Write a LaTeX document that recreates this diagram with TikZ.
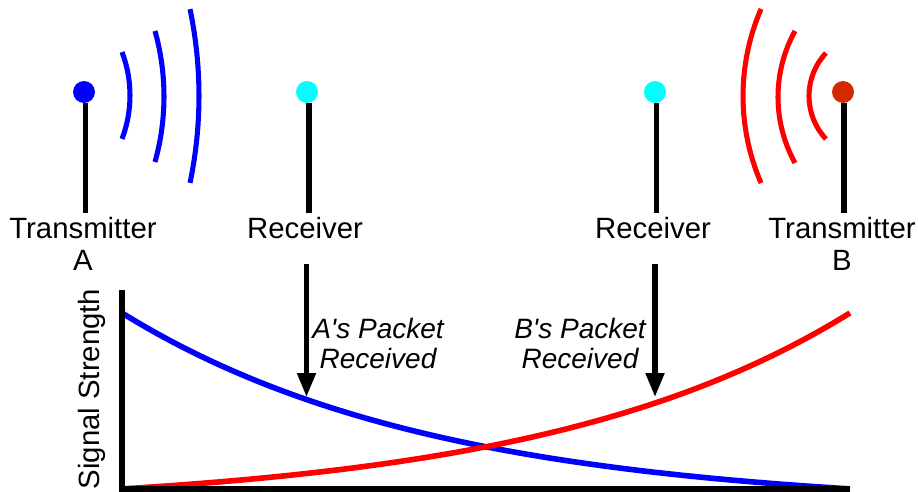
\documentclass[tikz,border=0pt]{standalone}
\usepackage{fontspec}
\setmainfont{Liberation Sans}
\usetikzlibrary{arrows.meta}
\definecolor{dotred}{RGB}{212,42,0}
\definecolor{dotcyan}{RGB}{0,255,255}
\definecolor{wblue}{RGB}{0,0,255}
\definecolor{wred}{RGB}{255,0,0}
\begin{document}
\begin{tikzpicture}[x=0.75pt,y=-0.75pt,
  dot/.style={circle, inner sep=0pt, minimum size=16.5pt},
  stem/.style={line width=4.2pt, black},
  wave/.style={line width=3.8pt},
  curve/.style={line width=4.2pt},
  axis/.style={line width=4.2pt, black},
  lbl/.style={font=\fontsize{22}{26}\selectfont, anchor=base, inner sep=0pt},
  ilbl/.style={font=\fontsize{21}{25}\itshape, anchor=base, inner sep=0pt},
  pointer/.style={line width=3.8pt, black, -{Triangle[length=18pt, width=13.5pt]}}
]
\useasboundingbox (0,0) rectangle (918,492);

% transmitters and receivers
\node[dot, fill=wblue] (ta) at (84,92) {};
\node[dot, fill=dotcyan] (ra) at (307,92) {};
\node[dot, fill=dotcyan] (rb) at (655,92) {};
\node[dot, fill=dotred] (tb) at (843,92) {};

\coordinate (tas) at (85.5,213);
\coordinate (ras) at (309,213);
\coordinate (rbs) at (656.5,213);
\coordinate (tbs) at (844,213);
\draw[stem] (ta.south -| tas) -- (tas);
\draw[stem] (ra.south -| ras) -- (ras);
\draw[stem] (rb.south -| rbs) -- (rbs);
\draw[stem] (tb.south -| tbs) -- (tbs);

% waves A
\draw[wave, wblue] (7.7,95.5) ++(-20.8:122.3) arc[start angle=-20.8, end angle=20.8, radius=122.3];
\draw[wave, wblue] (-78.8,96.5) ++(-15.65:242.8) arc[start angle=-15.65, end angle=15.65, radius=242.8];
\draw[wave, wblue] (-226,96) ++(-11.8:425) arc[start angle=-11.8, end angle=11.8, radius=425];
% waves B
\draw[wave, wred] (871.9,96) ++(136.9:62.9) arc[start angle=136.9, end angle=223.1, radius=62.9];
\draw[wave, wred] (914.6,97) ++(151.1:136.6) arc[start angle=151.1, end angle=208.9, radius=136.6];
\draw[wave, wred] (962.3,96) ++(156.6:219.3) arc[start angle=156.6, end angle=203.4, radius=219.3];

% labels
\node[lbl] (lta) at (83,238) {Transmitter};
\node[lbl] (ltaa) at (83,270) {A};
\node[lbl] (lra) at (305,238) {Receiver};
\node[lbl] (lrb) at (653,238) {Receiver};
\node[lbl] (ltb) at (842,238) {Transmitter};
\node[lbl] (ltbb) at (842,270) {B};

% arrows
\coordinate (aa1) at (306.5,264);
\coordinate (aa2) at (306.5,397);
\coordinate (ab1) at (655,264);
\coordinate (ab2) at (655,397);
\draw[pointer] (aa1) -- (aa2);
\draw[pointer] (ab1) -- (ab2);
\node[ilbl] (pa1) at (378,338) {A\textquotesingle s Packet};
\node[ilbl] (pa2) at (378,368) {Received};
\node[ilbl] (pb1) at (580,338) {B\textquotesingle s Packet};
\node[ilbl] (pb2) at (580,368) {Received};

% curves
\draw[curve, wblue] plot[domain=122:850, samples=120, smooth] (\x, {489 - 195.3*(exp(-0.00318*(\x-122)) - 0.0987)});
\draw[curve, wred] plot[domain=122:850, samples=120, smooth] (\x, {489 - 195.3*(exp(-0.00318*(850-\x)) - 0.0987)});

% axes
\coordinate (o) at (122,489);
\coordinate (ytop) at (122,290);
\coordinate (xend) at (850,489);
\draw[axis] (ytop) -- (o) -- (xend);
\node[lbl, rotate=90] (ys) at (99,389) {Signal Strength};
\end{tikzpicture}
\end{document}
